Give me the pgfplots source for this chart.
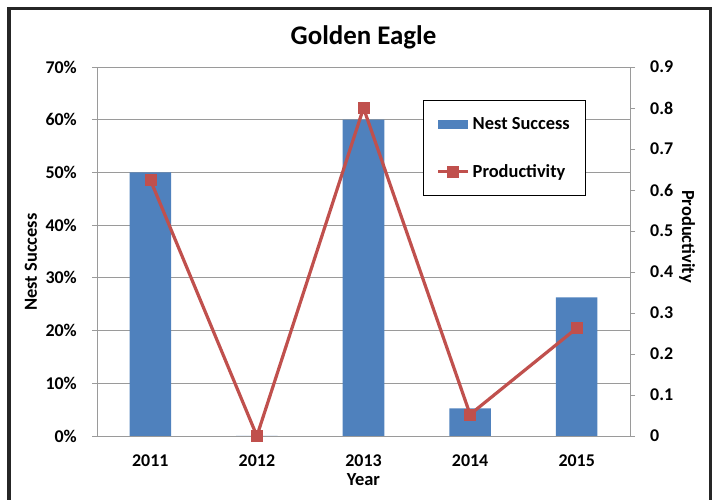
\documentclass[border=0pt]{standalone}
\usepackage{fontspec}
\setmainfont{Carlito}
\usepackage{pgfplots}
\pgfplotsset{compat=1.18}
\definecolor{barblue}{HTML}{4F81BD}
\definecolor{linered}{HTML}{C0504D}
\definecolor{gridgray}{HTML}{9A9A9A}
\pgfplotsset{mylinelegend/.style={legend image code/.code={\draw[mark repeat=2, mark phase=2, ##1] plot coordinates {(0bp,0bp) (15bp,0bp) (30bp,0bp)};}}}
\begin{document}
\begin{tikzpicture}[x=1bp,y=1bp]
\useasboundingbox (0,0) rectangle (713,500);
\draw[line width=3.2bp, color=black!85] (9,-5) -- (9,491.5) -- (710.5,491.5) -- (710.5,-5);
\begin{axis}[
  at={(97bp,64bp)}, anchor=south west,
  scale only axis, width=533bp, height=369bp,
  xmin=-0.5, xmax=4.5, ymin=0, ymax=70,
  axis x line*=bottom, axis y line*=left,
  axis line style={gridgray, line width=0.9bp},
  tick style={gridgray, line width=0.9bp},
  tick align=outside, major tick length=5bp, minor tick length=5bp,
  xtick={0,1,2,3,4}, xticklabels={2011,2012,2013,2014,2015},
  minor xtick={-0.5,0.5,1.5,2.5,3.5,4.5},
  xtick style={draw=none},
  minor tick style={draw=gridgray, line width=0.9bp},
  ytick={0,10,20,30,40,50,60,70},
  yticklabel={\pgfmathprintnumber{\tick}\%},
  /pgf/number format/assume math mode=true,
  ymajorgrids, grid style={gridgray, line width=0.9bp},
  ticklabel style={font=\fontsize{18}{20}\selectfont\bfseries},
  xticklabel style={anchor=base, yshift=-26bp},
  yticklabel style={anchor=east, inner sep=0pt, xshift=-15bp},
  title={Golden Eagle},
  title style={font=\fontsize{27}{30}\selectfont\bfseries, at={(axis description cs:0.5,1)}, anchor=base, yshift=17bp},
  xlabel={Year},
  xlabel style={font=\fontsize{18.5}{20}\selectfont\bfseries, at={(axis description cs:0.5,0)}, anchor=base, yshift=-50bp},
  ylabel={Nest Success},
  ylabel style={font=\fontsize{18.5}{20}\selectfont\bfseries, at={(axis description cs:-0.1238,0.4715)}, anchor=center, rotate=0},
]
\addplot[ybar, bar width=0.39, fill=barblue, draw=none] coordinates {(0,50) (1,0) (2,60) (3,5.263) (4,26.316)};
\end{axis}
\begin{axis}[
  at={(97bp,64bp)}, anchor=south west,
  scale only axis, width=533bp, height=369bp,
  xmin=-0.5, xmax=4.5, ymin=0, ymax=0.9,
  axis x line=none, axis y line*=right,
  axis line style={gridgray, line width=0.9bp},
  tick style={gridgray, line width=0.9bp},
  tick align=outside, major tick length=5bp,
  ytick={0,0.1,0.2,0.3,0.4,0.5,0.6,0.7,0.8,0.9},
  /pgf/number format/assume math mode=true,
  ticklabel style={font=\fontsize{18}{20}\selectfont\bfseries},
  yticklabel style={anchor=west, inner sep=0pt, xshift=15bp},
  ylabel={Productivity},
  ylabel style={font=\fontsize{18.5}{20}\selectfont\bfseries, at={(axis description cs:1.107,0.5407)}, anchor=center, rotate=180},
  clip=false,
  legend cell align=left,
  legend style={at={(0.6116,0.9106)}, anchor=north west, draw=black, line width=1bp, fill=white,
    font=\fontsize{18.5}{20}\selectfont\bfseries, inner xsep=13bp, inner ysep=14bp, row sep=27bp,
    nodes={inner sep=3bp}},
]
\addlegendimage{legend image code/.code={\fill[barblue] (0bp,-4bp) rectangle (29bp,4bp);}}
\addlegendentry{Nest Success}
\addplot[linered, line width=3.2bp, mark=square*, mark size=5.5bp, mark options={fill=linered, draw=linered, line width=0.5bp}, mylinelegend]
  coordinates {(0,0.625) (1,0) (2,0.8) (3,0.0526) (4,0.263)};
\addlegendentry{Productivity}
\end{axis}
\end{tikzpicture}
\end{document}
